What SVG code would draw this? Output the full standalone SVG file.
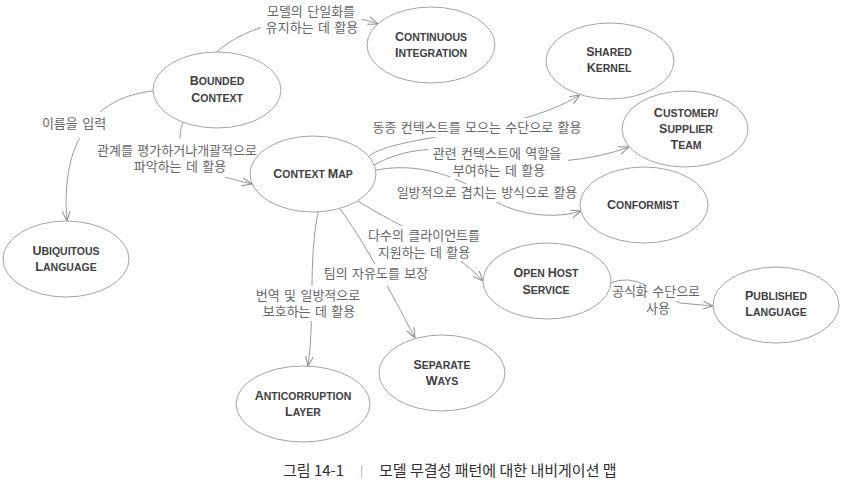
<svg xmlns="http://www.w3.org/2000/svg" width="846" height="487" viewBox="0 0 846 487">
<style>
.node ellipse{fill:#fff;stroke:#a3a3a3;stroke-width:1}
.nt{font-family:"Liberation Sans",Arial,sans-serif;font-weight:bold;fill:#404040;text-anchor:middle;font-size:12.5px}
.s{font-size:10.5px}
.edge{fill:none;stroke:#9a9a9a;stroke-width:1;marker-end:url(#arr)}
.bg{fill:#fff}
.lb{font-family:"Noto Sans CJK KR","Noto Sans",sans-serif;font-size:13px;word-spacing:1.5px;fill:#666;text-anchor:middle}
.cap{font-family:"Noto Sans CJK KR","Noto Sans",sans-serif;font-size:15px;fill:#2e2e2e}
</style>
<defs>
<marker id="arr" viewBox="0 0 10 10" refX="10" refY="5" markerWidth="10" markerHeight="10" markerUnits="userSpaceOnUse" orient="auto">
<path d="M0,1 L10,5 L0,9" fill="none" stroke="#8a8a8a" stroke-width="1"/>
</marker>
</defs>
<rect width="846" height="487" fill="#fff"/>
<g id="connectors">
<path class="edge" d="M217,52 C240,28 320,2 378,24"/>
<path class="edge" d="M153,91 C95,97 60,140 67,221"/>
<path class="edge" d="M183,122 C170,160 200,172 252,184"/>
<path class="edge" d="M369,156 C395,135 515,135 580,95"/>
<path class="edge" d="M374,165 C405,148 440,145 480,155 S580,165 629,147"/>
<path class="edge" d="M376,170 C430,160 470,185 490,198 C520,218 560,218 581,211"/>
<path class="edge" d="M358,201 C400,228 450,245 483,281"/>
<path class="edge" d="M340,209 C360,235 390,290 415,338"/>
<path class="edge" d="M318,212 C308,260 315,320 308,366"/>
<path class="edge" d="M610,283 Q628,276 645,285 T680,303 L713,306"/>
<g id="labels">
<rect class="bg" x="261" y="3" width="101" height="34"/>
<text class="lb" x="311" y="16">모델의 단일화를<tspan x="312" dy="16">유지하는 데 활용</tspan></text>
<rect class="bg" x="38" y="112" width="72" height="26"/>
<text class="lb" x="74" y="128">이름을 입력</text>
<rect class="bg" x="92" y="139" width="170" height="16"/>
<rect class="bg" x="128" y="155" width="104" height="22"/>
<text class="lb" x="177" y="155">관계를 평가하거나개괄적으로<tspan x="180" dy="16">파악하는 데 활용</tspan></text>
<rect class="bg" x="368" y="118" width="218" height="19"/>
<text class="lb" x="477" y="132">동종 컨텍스트를 모으는 수단으로 활용</text>
<rect class="bg" x="428" y="144" width="140" height="18"/>
<rect class="bg" x="450" y="162" width="98" height="17"/>
<text class="lb" x="497" y="158">관련 컨텍스트에 역할을<tspan x="499" dy="17">부여하는 데 활용</tspan></text>
<rect class="bg" x="391" y="184" width="192" height="18"/>
<text class="lb" x="487" y="197">일방적으로 겹치는 방식으로 활용</text>
<rect class="bg" x="363" y="226" width="122" height="18"/>
<rect class="bg" x="374" y="244" width="101" height="17"/>
<text class="lb" x="424" y="240">다수의 클라이언트를<tspan x="424" dy="17">지원하는 데 활용</tspan></text>
<rect class="bg" x="319" y="264" width="114" height="22"/>
<text class="lb" x="376" y="278">팀의 자유도를 보장</text>
<rect class="bg" x="251" y="286" width="114" height="18"/>
<rect class="bg" x="259" y="304" width="101" height="17"/>
<text class="lb" x="308" y="300">번역 및 일방적으로<tspan x="309" dy="16">보호하는 데 활용</tspan></text>
<rect class="bg" x="609" y="286" width="94" height="15"/>
<rect class="bg" x="642" y="301" width="32" height="16"/>
<text class="lb" x="656" y="296">공식화 수단으로<tspan x="658" dy="17">사용</tspan></text>
</g>
</g>
<g id="continuous-integration" class="node">
<ellipse cx="431" cy="45" rx="64" ry="38"/>
<text class="nt" x="431" y="41">C<tspan class="s">ONTINUOUS</tspan></text>
<text class="nt" x="431" y="57">I<tspan class="s">NTEGRATION</tspan></text>
</g>
<g id="shared-kernel" class="node">
<ellipse cx="610" cy="61" rx="64" ry="38"/>
<text class="nt" x="609" y="56">S<tspan class="s">HARED</tspan></text>
<text class="nt" x="609" y="72">K<tspan class="s">ERNEL</tspan></text>
</g>
<g id="customer-supplier-team" class="node">
<ellipse cx="685" cy="129" rx="63" ry="38"/>
<text class="nt" x="686" y="117">C<tspan class="s">USTOMER/</tspan></text>
<text class="nt" x="686" y="133">S<tspan class="s">UPPLIER</tspan></text>
<text class="nt" x="686" y="149">T<tspan class="s">EAM</tspan></text>
</g>
<g id="conformist" class="node">
<ellipse cx="644" cy="205" rx="64" ry="38"/>
<text class="nt" x="643" y="209">C<tspan class="s">ONFORMIST</tspan></text>
</g>
<g id="bounded-context" class="node">
<ellipse cx="217" cy="90" rx="64" ry="38"/>
<text class="nt" x="217" y="85">B<tspan class="s">OUNDED</tspan></text>
<text class="nt" x="217" y="102">C<tspan class="s">ONTEXT</tspan></text>
</g>
<g id="context-map" class="node">
<ellipse cx="313" cy="174" rx="63" ry="38"/>
<text class="nt" x="313" y="178">C<tspan class="s">ONTEXT </tspan>M<tspan class="s">AP</tspan></text>
</g>
<g id="ubiquitous-language" class="node">
<ellipse cx="66" cy="259" rx="63" ry="38"/>
<text class="nt" x="66" y="255">U<tspan class="s">BIQUITOUS</tspan></text>
<text class="nt" x="66" y="271">L<tspan class="s">ANGUAGE</tspan></text>
</g>
<g id="anticorruption-layer" class="node">
<ellipse cx="303" cy="404" rx="67" ry="38"/>
<text class="nt" x="303" y="400">A<tspan class="s">NTICORRUPTION</tspan></text>
<text class="nt" x="303" y="416">L<tspan class="s">AYER</tspan></text>
</g>
<g id="separate-ways" class="node">
<ellipse cx="442" cy="373" rx="63" ry="38"/>
<text class="nt" x="442" y="369">S<tspan class="s">EPARATE</tspan></text>
<text class="nt" x="442" y="385">W<tspan class="s">AYS</tspan></text>
</g>
<g id="open-host-service" class="node">
<ellipse cx="547" cy="281" rx="64" ry="38"/>
<text class="nt" x="546" y="277">O<tspan class="s">PEN </tspan>H<tspan class="s">OST</tspan></text>
<text class="nt" x="546" y="294">S<tspan class="s">ERVICE</tspan></text>
</g>
<g id="published-language" class="node">
<ellipse cx="776" cy="305" rx="63" ry="38"/>
<text class="nt" x="776" y="300">P<tspan class="s">UBLISHED</tspan></text>
<text class="nt" x="776" y="316">L<tspan class="s">ANGUAGE</tspan></text>
</g>
<g id="caption">
<text class="cap" x="283" y="476">그림 14-1</text>
<text class="cap" x="360" y="475" style="fill:#aaa;font-size:12px">|</text>
<text class="cap" x="379" y="476">모델 무결성 패턴에 대한 내비게이션 맵</text>
</g>
</svg>
